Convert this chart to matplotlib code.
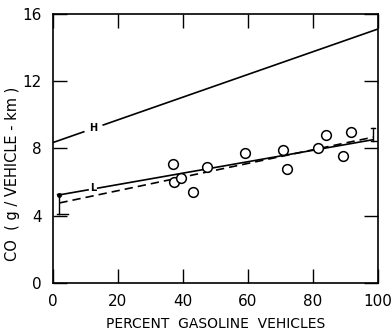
import matplotlib.pyplot as plt

# observed CO emission factors
obs_pct = [36.8, 37.3, 39.5, 43.2, 47.3, 59.1, 70.9, 71.9, 81.6, 83.9, 89.3, 91.8]
obs_co = [7.08, 6.00, 6.23, 5.43, 6.90, 7.72, 7.93, 6.77, 8.02, 8.81, 7.54, 8.97]

# model lines (endpoints): H = high estimate, L = low estimate, fit = dashed regression
h_x = [0, 100]
h_y = [8.35, 15.1]
l_x = [2, 98.5]
l_y = [5.24, 8.52]
fit_x = [2, 98.5]
fit_y = [4.76, 8.67]

# error bars at both ends of the range
err_x = [2, 98.5]
err_lo = [4.1, 8.45]
err_hi = [5.3, 9.2]

fig = plt.figure(figsize=(3.92, 3.31), dpi=100)
ax = fig.add_axes([0.135, 0.145, 0.829, 0.813])

# H line with a gap for its label
slope_h = (h_y[1] - h_y[0]) / (h_x[1] - h_x[0])
ax.plot([h_x[0], 9.5], [h_y[0], h_y[0] + slope_h * 9.5], color="black", lw=1.2)
ax.plot([15.5, h_x[1]], [h_y[0] + slope_h * 15.5, h_y[1]], color="black", lw=1.2)
ax.text(12.5, 9.2, "H", fontsize=7, ha="center", va="center", fontweight="bold")

# L line with a gap for its label
slope_l = (l_y[1] - l_y[0]) / (l_x[1] - l_x[0])
ax.plot([l_x[0], 10.8], [l_y[0], l_y[0] + slope_l * (10.8 - l_x[0])], color="black", lw=1.2)
ax.plot([13.8, l_x[1]], [l_y[0] + slope_l * (13.8 - l_x[0]), l_y[1]], color="black", lw=1.2)
ax.text(12.3, 5.65, "L", fontsize=7, ha="center", va="center", fontweight="bold")
ax.plot(l_x[0], l_y[0], "o", color="black", ms=2.5)

ax.plot(fit_x, fit_y, color="black", lw=1.2, ls=(0, (5, 3)))

for x, lo, hi in zip(err_x, err_lo, err_hi):
    ax.plot([x, x], [lo, hi], color="black", lw=1.0)
    ax.plot([x - 0.6, x + 2.5], [lo, lo], color="black", lw=1.0)
    ax.plot([x - 0.6, x + 0.6], [hi, hi], color="black", lw=1.0)

ax.plot(obs_pct, obs_co, "o", mfc="white", mec="black", ms=7, mew=1.1, ls="none")

ax.set_xlim(0, 100)
ax.set_ylim(0, 16)
ax.set_xticks([0, 20, 40, 60, 80, 100])
ax.set_yticks([0, 4, 8, 12, 16])
ax.tick_params(direction="in", length=10, width=1.0, top=True, right=True,
               labelsize=11, pad=8)
for s in ax.spines.values():
    s.set_linewidth(1.2)

ax.set_xlabel("PERCENT  GASOLINE  VEHICLES", fontsize=10, labelpad=6)
ax.set_ylabel("CO  ( g / VEHICLE - km )", fontsize=10.5)
ax.yaxis.set_label_coords(-0.1, 0.405)

fig.savefig("out.png", dpi=100)
